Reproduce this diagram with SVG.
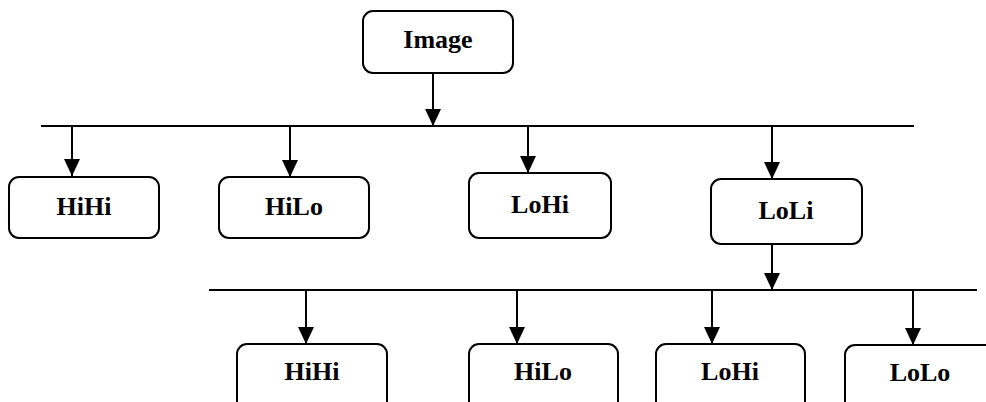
<svg xmlns="http://www.w3.org/2000/svg" width="986" height="402" viewBox="0 0 986 402">
<defs>
<marker id="ah" markerUnits="userSpaceOnUse" markerWidth="17" markerHeight="16" refX="17" refY="8" orient="auto" viewBox="0 0 17 16">
<path d="M0,0 L17,8 L0,16 Z" fill="#000"/>
</marker>
<style>
.box{fill:#fff;stroke:#000;stroke-width:2}
.lbl{font-family:"Liberation Serif","Times New Roman",serif;font-weight:bold;font-size:26px;fill:#000;text-anchor:middle}
.ln{stroke:#000;stroke-width:2;fill:none}
.ar{stroke:#000;stroke-width:2;fill:none;marker-end:url(#ah)}
</style>
</defs>
<rect width="986" height="402" fill="#fff"/>
<g id="connectors">
<line class="ln" x1="41" y1="126" x2="914" y2="126"/>
<line class="ln" x1="209" y1="290" x2="977" y2="290"/>
<path class="ar" d="M433,73 V126"/>
<path class="ar" d="M72,126 V176"/>
<path class="ar" d="M290,126 V177"/>
<path class="ar" d="M528,126 V173"/>
<path class="ar" d="M772,126 V179"/>
<path class="ar" d="M772,244 V290"/>
<path class="ar" d="M306,290 V344"/>
<path class="ar" d="M517,290 V344"/>
<path class="ar" d="M712,290 V344"/>
<path class="ar" d="M913,290 V345"/>
</g>
<g id="n-image"><rect class="box" x="363" y="11" width="150" height="62" rx="10"/><text class="lbl" x="438" y="48">Image</text></g>
<g id="n-hihi"><rect class="box" x="9" y="177" width="150" height="61" rx="10"/><text class="lbl" x="84" y="215">HiHi</text></g>
<g id="n-hilo"><rect class="box" x="219" y="177" width="150" height="61" rx="10"/><text class="lbl" x="294" y="215">HiLo</text></g>
<g id="n-lohi"><rect class="box" x="469" y="173" width="142" height="65" rx="10"/><text class="lbl" x="540" y="213">LoHi</text></g>
<g id="n-loli"><rect class="box" x="711" y="179" width="151" height="65" rx="10"/><text class="lbl" x="786" y="219">LoLi</text></g>
<g id="n-hihi2"><rect class="box" x="237" y="344" width="150" height="70" rx="10"/><text class="lbl" x="312" y="380">HiHi</text></g>
<g id="n-hilo2"><rect class="box" x="469" y="344" width="149" height="70" rx="10"/><text class="lbl" x="543" y="380">HiLo</text></g>
<g id="n-lohi2"><rect class="box" x="656" y="344" width="149" height="70" rx="10"/><text class="lbl" x="730" y="380">LoHi</text></g>
<g id="n-lolo"><rect class="box" x="845" y="345" width="150" height="70" rx="10"/><text class="lbl" x="920" y="381">LoLo</text></g>
</svg>
